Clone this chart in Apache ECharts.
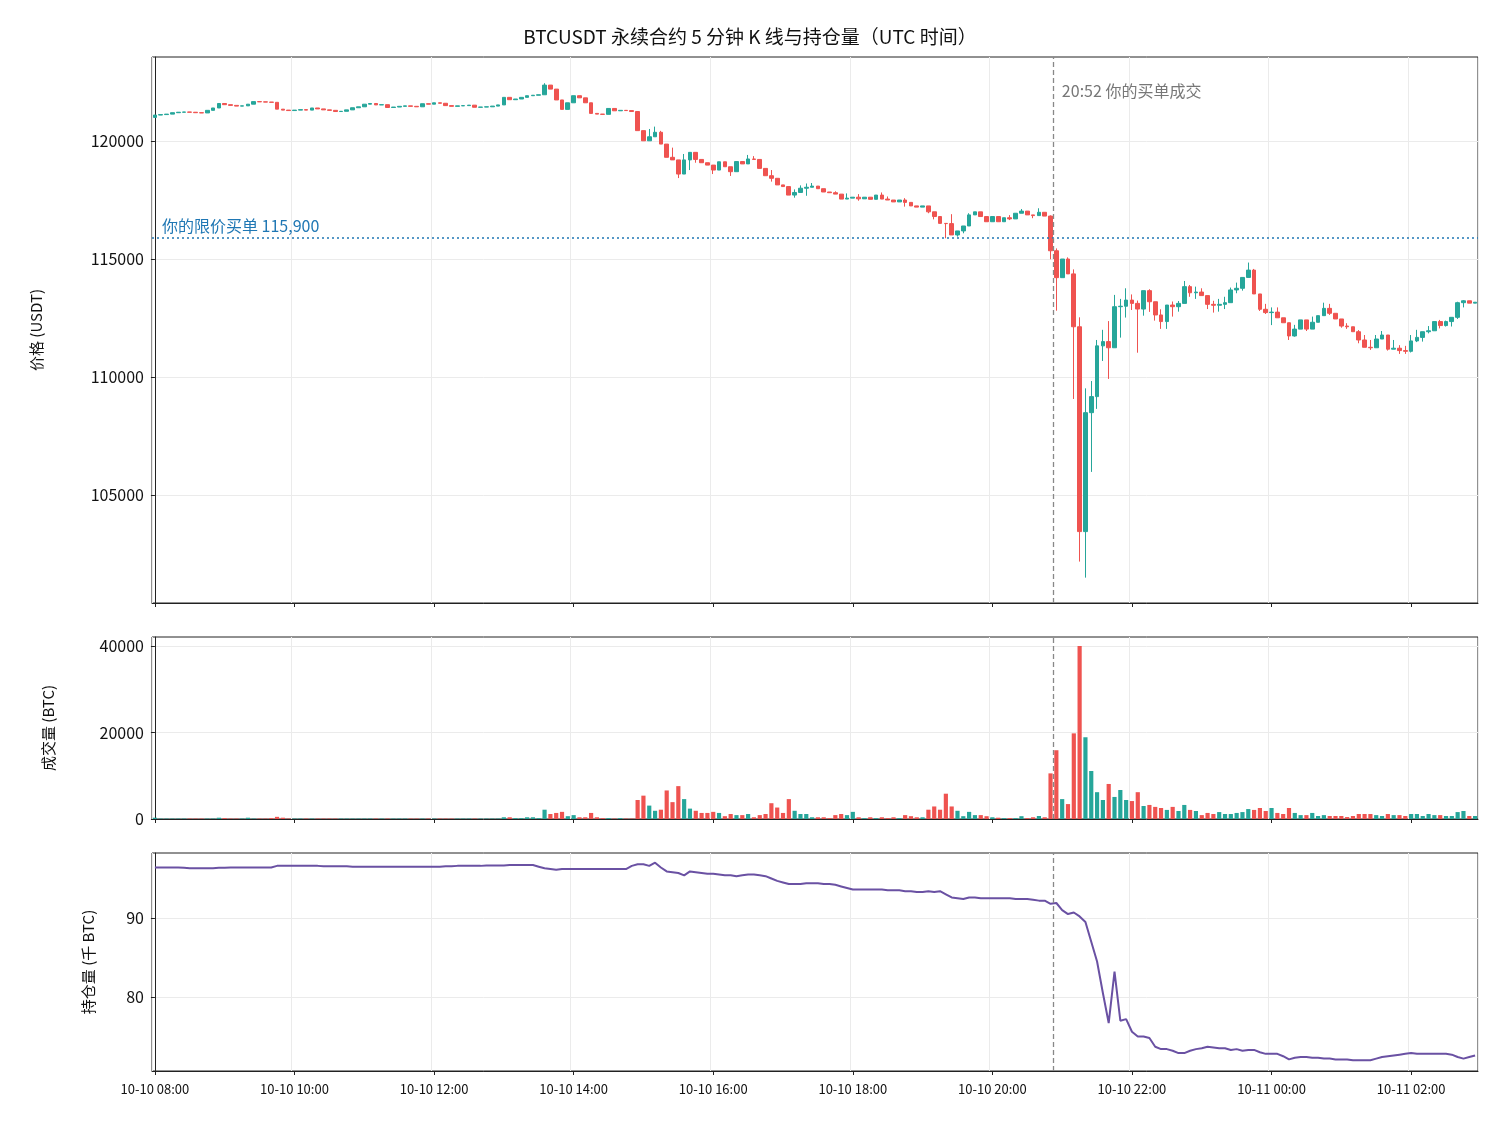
<!DOCTYPE html>
<html><head><meta charset="utf-8">
<script src="https://cdn.jsdelivr.net/npm/echarts@6/dist/echarts.min.js"></script>
<style>html,body{margin:0;padding:0;background:#fff}#c{width:1500px;height:1125px}</style>
</head><body><div id="c"></div>
<script>
const firstOpen = 121000;
const closes = [
121100,121120,121140,121200,121220,121230,121220,121200,121190,121300,
121400,121590,121540,121510,121480,121490,121560,121670,121660,121650,
121640,121350,121310,121290,121310,121330,121310,121400,121360,121320,
121300,121250,121260,121320,121410,121450,121560,121590,121530,121540,
121420,121440,121470,121490,121470,121450,121580,121560,121620,121600,
121500,121470,121490,121500,121520,121430,121440,121450,121480,121530,
121850,121750,121780,121850,121920,121940,121960,122370,122200,121740,
121340,121620,121920,121830,121620,121170,121140,121130,121380,121280,
121300,121290,121250,120440,120010,120180,120370,119870,119310,119200,
118600,119200,119520,119220,119080,118980,118770,119120,118910,118700,
119130,119030,119240,119220,118840,118530,118420,118140,118070,117710,
117820,118000,118040,118090,117980,117840,117810,117750,117540,117580,
117620,117550,117620,117530,117710,117540,117500,117420,117500,117400,
117250,117200,117250,117000,116800,116510,116500,116020,116190,116400,
116870,117000,116800,116580,116800,116580,116750,116700,116940,117030,
116870,116840,116980,116820,115350,114210,115000,114370,112130,103450,
108490,109170,111320,111500,111240,112980,113000,113260,113120,112880,
113660,113190,112630,112350,113050,112980,113120,113830,113570,113600,
113450,113080,113040,113080,113150,113690,113760,114220,114530,113520,
112870,112730,112750,112510,112300,111740,112030,112420,112030,112320,
112600,112910,112700,112460,112160,112130,111920,111570,111260,111240,
111610,111780,111180,111220,111120,111090,111530,111680,111920,111960,
112350,112180,112350,112530,113150,113230,113130,113170];
const wickHigh = {67:122450,85:120510,86:120610,87:120430,89:119720,91:119450,102:119410,103:119360,106:118770,110:117950,111:118120,112:118200,113:118220,117:117870,119:117780,121:117750,125:117820,126:117650,129:117580,137:116900,140:116940,147:116860,149:117120,152:117150,154:116850,155:115450,157:115070,158:114560,159:112530,160:109520,161:109830,162:111570,163:112000,164:112370,165:113480,166:113310,167:113760,168:113500,169:113240,171:113720,173:112870,175:113200,176:113220,177:114070,178:113900,179:113830,180:113760,182:113230,183:113310,184:113400,185:113790,186:114000,188:114850,189:114580,191:113100,192:112950,193:112950,196:112210,198:112420,199:112560,201:113150,202:113100,205:112280,207:111990,208:111780,209:111570,210:111780,211:111950,213:111570,214:111350,215:111320,216:111780,217:112000,219:112160,221:112420,222:112390,224:113190,225:113260};
const wickLow = {90:118430,92:118770,93:119080,96:118600,99:118520,106:118280,110:117600,112:117680,121:117470,129:117220,133:116940,134:116680,136:115880,138:115950,139:116090,147:116650,151:116730,154:114990,155:112810,158:109070,159:102180,160:101500,161:105980,162:108650,163:110680,164:109920,166:111670,167:112520,168:112840,169:111030,170:112600,171:112760,172:112390,173:112040,174:112040,175:112560,176:112770,178:113400,179:113310,181:112880,182:112730,183:112770,184:112880,186:113550,187:113660,190:112800,191:112670,192:112200,195:111570,196:111710,198:111950,202:112630,204:112090,205:112040,207:111430,209:111150,212:111120,214:110980,215:110980,216:111040,217:111480,218:111500,219:111850,221:112060,222:112140,223:112140,224:112460,225:112950};
const volume = [
300,100,100,100,100,100,100,100,100,100,
100,300,200,100,100,100,300,100,100,100,
200,500,300,100,100,100,100,100,100,100,
100,100,100,100,100,100,100,100,100,100,
100,100,100,100,100,100,100,100,100,100,
100,100,100,100,100,100,100,100,100,100,
400,400,200,200,400,400,200,2150,1150,1400,
1650,650,900,400,400,1400,400,200,200,100,
200,100,100,4400,5400,3100,1900,2150,6600,3900,
7600,4600,2400,1900,1400,1400,1650,1400,650,1150,
900,900,1150,400,900,1150,3650,2650,1400,4600,
1900,1150,1150,400,400,400,200,900,1150,900,
1650,400,200,400,200,400,200,400,200,900,
650,400,400,2150,2900,2150,5850,2900,1900,650,
1650,900,900,650,400,300,200,200,200,650,
200,400,700,400,10550,15900,4600,3450,19800,40000,
18900,11100,6200,4400,8100,5100,6700,4400,4150,6200,
3000,3250,2800,2550,2100,2800,1850,3250,2100,1850,
900,1400,1150,1600,1150,1150,1400,1600,2300,2100,
2550,1850,2550,1400,1150,2550,1400,900,900,1400,
700,900,700,700,700,450,700,1150,1150,1150,
900,700,1150,900,900,700,1150,1150,700,1150,
900,900,700,700,1600,1850,700,700];
const openInterest = [
96.4,96.4,96.4,96.4,96.4,96.35,96.3,96.3,96.3,96.3,
96.3,96.35,96.35,96.4,96.4,96.4,96.4,96.4,96.4,96.4,
96.4,96.6,96.6,96.6,96.6,96.6,96.6,96.6,96.6,96.55,
96.55,96.55,96.55,96.55,96.5,96.5,96.5,96.5,96.5,96.5,
96.5,96.5,96.5,96.5,96.5,96.5,96.5,96.5,96.5,96.5,
96.55,96.55,96.6,96.6,96.6,96.6,96.6,96.65,96.65,96.65,
96.65,96.7,96.7,96.7,96.7,96.7,96.5,96.3,96.2,96.1,
96.2,96.2,96.2,96.2,96.2,96.2,96.2,96.2,96.2,96.2,
96.2,96.2,96.6,96.8,96.8,96.6,97.0,96.4,95.9,95.8,
95.7,95.4,95.9,95.8,95.7,95.6,95.6,95.5,95.4,95.4,
95.3,95.4,95.5,95.5,95.4,95.3,95.0,94.7,94.5,94.3,
94.3,94.3,94.4,94.4,94.4,94.3,94.3,94.2,94.0,93.8,
93.6,93.6,93.6,93.6,93.6,93.6,93.5,93.5,93.5,93.4,
93.4,93.3,93.3,93.4,93.3,93.4,93.0,92.6,92.5,92.4,
92.6,92.6,92.5,92.5,92.5,92.5,92.5,92.5,92.4,92.4,
92.4,92.3,92.2,92.2,91.8,91.9,91.0,90.5,90.7,90.2,
89.5,87.0,84.5,80.5,76.7,83.2,77.0,77.2,75.6,75.0,
75.0,74.8,73.7,73.4,73.4,73.2,72.9,72.9,73.2,73.4,
73.5,73.7,73.6,73.5,73.5,73.3,73.4,73.2,73.3,73.3,
73.0,72.8,72.8,72.8,72.5,72.1,72.3,72.4,72.4,72.3,
72.3,72.2,72.2,72.1,72.1,72.1,72.0,72.0,72.0,72.0,
72.2,72.4,72.5,72.6,72.7,72.8,72.9,72.8,72.8,72.8,
72.8,72.8,72.8,72.7,72.4,72.2,72.4,72.6];
const priceTicks = [105000,110000,115000,120000];
const volTicks = [0,20000,40000];
const oiTicks = [80,90];
const limitPrice = 115900;
const fillIndex = 154.4;

const categories = [];
for (let i = 0; i < closes.length; i++) {
  const t = new Date(Date.UTC(2025, 9, 10, 8, 0) + i * 300000);
  const p = n => String(n).padStart(2, '0');
  categories.push(p(t.getUTCMonth()+1) + '-' + p(t.getUTCDate()) + ' ' + p(t.getUTCHours()) + ':' + p(t.getUTCMinutes()));
}
const UP = '#26a69a', DN = '#ef5350';
const kdata = [], vdata = [];
for (let i = 0; i < closes.length; i++) {
  const o = i === 0 ? firstOpen : closes[i-1], c = closes[i];
  const lo = wickLow[i] !== undefined ? Math.min(wickLow[i], o, c) : Math.min(o, c);
  const hi = wickHigh[i] !== undefined ? Math.max(wickHigh[i], o, c) : Math.max(o, c);
  kdata.push([o, c, lo, hi]);
  vdata.push({value: volume[i], itemStyle: {color: c >= o ? UP : DN}});
}
const font = '"Noto Sans CJK SC", "DejaVu Sans", sans-serif';
const gBase = {left: 152, right: 22, show: true, borderColor: '#222', borderWidth: 1, backgroundColor: 'transparent'};
const grids = [
  Object.assign({top: 57, height: 546}, gBase),
  Object.assign({top: 637, height: 182}, gBase),
  Object.assign({top: 853, height: 218}, gBase)
];
function catAxis(gi, showLabel) {
  return {type: 'category', gridIndex: gi, data: categories, boundaryGap: true,
    axisLine: {lineStyle: {color: '#222'}},
    axisTick: {show: true, interval: 23, alignWithLabel: true, length: 4, lineStyle: {color: '#222'}},
    axisLabel: {show: showLabel, interval: 23, color: '#111', fontSize: 13, fontFamily: font, margin: 12},
    splitLine: {show: true, interval: 23, lineStyle: {color: '#ebebeb'}}};
}
function valAxis(gi, min, max, ticks, name, gap) {
  return {type: 'value', gridIndex: gi, min: min, max: max, name: name, nameLocation: 'middle', nameGap: gap,
    nameTextStyle: {color: '#111', fontSize: 15, fontFamily: font},
    axisLine: {show: true, lineStyle: {color: '#222'}},
    axisTick: {show: true, length: 4, customValues: ticks, lineStyle: {color: '#222'}},
    axisLabel: {color: '#111', fontSize: 16, fontFamily: font, customValues: ticks, formatter: v => String(v)},
    splitLine: {show: true, lineStyle: {color: '#ebebeb'}}};
}
const hidX = gi => ({type: 'value', gridIndex: gi, min: -0.5, max: closes.length - 0.5, show: false});
const dashLine = {silent: true, symbol: 'none', label: {show: false}, lineStyle: {color: '#888', type: [5, 3], width: 1.3}, data: [{xAxis: fillIndex}]};

const chart = echarts.init(document.getElementById('c'));
chart.setOption({
  animation: false,
  title: {text: 'BTCUSDT 永续合约 5 分钟 K 线与持仓量（UTC 时间）', left: 'center', top: 22,
    textStyle: {fontSize: 19, fontWeight: 'normal', color: '#111', fontFamily: font}},
  grid: grids,
  xAxis: [catAxis(0, false), catAxis(1, false), catAxis(2, true), hidX(0), hidX(1), hidX(2)],
  yAxis: [
    valAxis(0, 100425, 123560, priceTicks, '价格 (USDT)', 108),
    valAxis(1, 0, 42080, volTicks, '成交量 (BTC)', 96),
    valAxis(2, 70.63, 98.23, oiTicks, '持仓量 (千 BTC)', 56)
  ],
  series: [
    {type: 'candlestick', xAxisIndex: 0, yAxisIndex: 0, data: kdata, barWidth: '72%',
      itemStyle: {color: UP, color0: DN, borderColor: UP, borderColor0: DN, borderWidth: 1},
      markLine: {silent: true, symbol: 'none', lineStyle: {color: '#1f77b4', type: [2, 3], width: 1.6},
        label: {show: true, position: 'insideStartTop', formatter: '你的限价买单 115,900', color: '#1f77b4', fontSize: 16, fontFamily: font, distance: [10, 4]},
        data: [{yAxis: limitPrice}]}},
    {type: 'line', xAxisIndex: 3, yAxisIndex: 0, data: [], markLine: dashLine},
    {type: 'bar', xAxisIndex: 1, yAxisIndex: 1, data: vdata, barWidth: '72%'},
    {type: 'line', xAxisIndex: 4, yAxisIndex: 1, data: [], markLine: dashLine},
    {type: 'line', xAxisIndex: 2, yAxisIndex: 2, data: openInterest, symbol: 'none', lineStyle: {color: '#6a51a3', width: 2}},
    {type: 'line', xAxisIndex: 5, yAxisIndex: 2, data: [], markLine: dashLine}
  ]
});
const px = chart.convertToPixel({xAxisIndex: 3}, fillIndex);
chart.setOption({graphic: [{type: 'text', left: px + 9, top: 83,
  style: {text: '20:52 你的买单成交', fill: '#777', fontSize: 16, fontFamily: font}}]});
</script></body></html>
